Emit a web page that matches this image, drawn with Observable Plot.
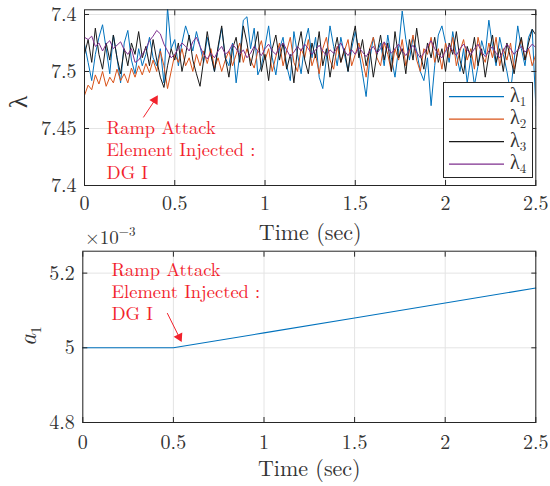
<!DOCTYPE html>
<html><head><meta charset="utf-8">
<script src="https://cdn.jsdelivr.net/npm/d3@7"></script>
<script src="https://cdn.jsdelivr.net/npm/@observablehq/plot@0.6"></script>
<style>
body{margin:0;background:#fff}
#wrap{position:relative;width:550px;height:486px;overflow:hidden;background:#fff}
#wrap svg{position:absolute;left:0;overflow:visible;background:transparent}
#wrap svg text{font-family:"Latin Modern Roman","Liberation Serif",serif}
</style></head><body><div id="wrap"></div>
<script>
// ---------- data ----------
const time = [0,0.02,0.04,0.06,0.08,0.1,0.12,0.14,0.16,0.18,0.2,0.22,0.24,0.26,0.28,0.3,0.32,0.34,0.36,0.38,0.4,0.42,0.44,0.46,0.48,0.5,0.52,0.54,0.56,0.58,0.6,0.62,0.64,0.66,0.68,0.7,0.72,0.74,0.76,0.78,0.8,0.82,0.84,0.86,0.88,0.9,0.92,0.94,0.96,0.98,1,1.02,1.04,1.06,1.08,1.1,1.12,1.14,1.16,1.18,1.2,1.22,1.24,1.26,1.28,1.3,1.32,1.34,1.36,1.38,1.4,1.42,1.44,1.46,1.48,1.5,1.52,1.54,1.56,1.58,1.6,1.62,1.64,1.66,1.68,1.7,1.72,1.74,1.76,1.78,1.8,1.82,1.84,1.86,1.88,1.9,1.92,1.94,1.96,1.98,2,2.02,2.04,2.06,2.08,2.1,2.12,2.14,2.16,2.18,2.2,2.22,2.24,2.26,2.28,2.3,2.32,2.34,2.36,2.38,2.4,2.42,2.44,2.46,2.48,2.5];

const lambda1 = [7.524,7.508,7.492,7.515,7.530,7.541,7.520,7.498,7.532,7.512,
7.490,7.525,7.536,7.510,7.498,7.520,7.505,7.515,7.530,7.512,
7.505,7.520,7.490,7.556,7.520,7.528,7.505,7.525,7.540,7.530,
7.518,7.535,7.522,7.508,7.530,7.515,7.500,7.520,7.538,7.512,
7.505,7.525,7.490,7.515,7.545,7.548,7.520,7.538,7.497,7.505,
7.522,7.540,7.512,7.497,7.520,7.530,7.505,7.492,7.535,7.515,
7.498,7.525,7.538,7.512,7.530,7.495,7.485,7.512,7.540,7.522,
7.505,7.530,7.515,7.500,7.520,7.535,7.518,7.498,7.478,7.510,
7.530,7.515,7.525,7.505,7.532,7.512,7.495,7.520,7.553,7.528,
7.510,7.530,7.518,7.500,7.492,7.512,7.470,7.505,7.532,7.540,
7.525,7.508,7.535,7.515,7.500,7.520,7.490,7.512,7.488,7.505,
7.527,7.515,7.545,7.522,7.505,7.530,7.515,7.500,7.482,7.510,
7.540,7.520,7.505,7.530,7.537,7.470];

const lambda2 = [7.479,7.488,7.484,7.497,7.489,7.500,7.487,7.495,7.490,7.502,
7.492,7.498,7.490,7.503,7.495,7.505,7.497,7.507,7.499,7.510,
7.500,7.518,7.505,7.485,7.500,7.515,7.508,7.520,7.505,7.512,
7.500,7.515,7.505,7.518,7.507,7.520,7.503,7.512,7.500,7.510,
7.518,7.505,7.515,7.525,7.508,7.520,7.510,7.503,7.518,7.527,
7.510,7.520,7.500,7.513,7.525,7.505,7.518,7.530,7.508,7.500,
7.520,7.512,7.528,7.505,7.515,7.498,7.520,7.530,7.510,7.502,
7.522,7.508,7.518,7.528,7.505,7.515,7.525,7.510,7.495,7.520,
7.530,7.512,7.505,7.525,7.515,7.500,7.520,7.510,7.528,7.505,
7.518,7.532,7.510,7.500,7.520,7.515,7.530,7.508,7.520,7.502,
7.525,7.512,7.530,7.505,7.518,7.528,7.510,7.520,7.502,7.530,
7.515,7.508,7.525,7.512,7.530,7.505,7.520,7.510,7.525,7.502,
7.518,7.528,7.510,7.520,7.505,7.515];

const lambda3 = [7.515,7.528,7.508,7.538,7.515,7.502,7.525,7.510,7.532,7.512,
7.498,7.520,7.505,7.525,7.515,7.535,7.512,7.522,7.505,7.528,
7.510,7.495,7.486,7.505,7.520,7.510,7.525,7.500,7.515,7.532,
7.510,7.498,7.487,7.510,7.535,7.515,7.500,7.522,7.540,7.512,
7.495,7.520,7.530,7.508,7.540,7.525,7.505,7.520,7.535,7.500,
7.515,7.492,7.520,7.532,7.510,7.525,7.502,7.515,7.490,7.520,
7.535,7.510,7.498,7.525,7.512,7.535,7.505,7.520,7.495,7.515,
7.530,7.508,7.520,7.500,7.525,7.540,7.512,7.528,7.505,7.520,
7.495,7.515,7.532,7.510,7.525,7.500,7.535,7.512,7.520,7.498,
7.528,7.510,7.538,7.515,7.502,7.525,7.512,7.530,7.508,7.520,
7.500,7.525,7.515,7.535,7.510,7.498,7.522,7.512,7.530,7.505,
7.520,7.495,7.515,7.532,7.508,7.520,7.500,7.525,7.512,7.498,
7.518,7.530,7.510,7.525,7.537,7.532];

const lambda4 = [7.530,7.528,7.531,7.522,7.525,7.518,7.524,7.527,7.520,7.523,
7.526,7.519,7.515,7.520,7.508,7.510,7.515,7.520,7.527,7.531,
7.536,7.533,7.524,7.518,7.512,7.515,7.520,7.525,7.522,7.518,
7.526,7.530,7.522,7.515,7.511,7.516,7.512,7.518,7.522,7.515,
7.518,7.524,7.520,7.515,7.519,7.512,7.516,7.522,7.518,7.514,
7.520,7.524,7.518,7.515,7.521,7.525,7.519,7.513,7.517,7.522,
7.518,7.524,7.520,7.515,7.519,7.523,7.518,7.514,7.519,7.516,
7.521,7.525,7.518,7.514,7.519,7.515,7.521,7.517,7.513,7.518,
7.522,7.516,7.520,7.526,7.521,7.516,7.520,7.524,7.518,7.514,
7.519,7.523,7.517,7.512,7.516,7.522,7.527,7.520,7.515,7.512,
7.518,7.523,7.518,7.514,7.520,7.524,7.519,7.515,7.520,7.524,
7.517,7.513,7.518,7.522,7.516,7.512,7.518,7.524,7.520,7.515,
7.519,7.522,7.517,7.520,7.524,7.521];

const seriesSubscripts = ["1","2","3","4"];
const seriesColors = ["#0072BD","#D95319","#1a1a1a","#7E2F8E"];

const timeTicks = [0,0.5,1,1.5,2,2.5];
const timeTickLabels = ["0","0.5","1","1.5","2","2.5"];
const lambdaTicks = [7.4,7.45,7.5,7.55];
const lambdaTickLabels = ["7.4","7.45","7.5","7.4"];

// a1 in units of 1e-3
const a1Time = [0,0.5,1,1.5,2,2.5];
const a1Values = [5.000,5.000,5.040,5.080,5.120,5.160];
const a1Ticks = [4.8,5,5.2];
const a1TickLabels = ["4.8","5","5.2"];

const annotationLines = ["Ramp Attack","Element Injected :","DG I"];
// annotation anchors in data coordinates
const annotTop = {x: 0.122, y: 7.4318};
const arrowTop = {x1: 0.326, y1: 7.4597, x2: 0.390, y2: 7.4749};
const annotBottom = {x: 0.158, y: 5.152};
const arrowBottom = {x1: 0.466, y1: 5.093, x2: 0.532, y2: 5.0287};

// ---------- style ----------
const FONT = '"Latin Modern Roman", "Liberation Serif", serif';
const AXIS = "#262626";
const TEXT = "#333333";
const GRID = "#e4e4e4";
const RED = "#f2222c";

const lambdaSeries = [lambda1, lambda2, lambda3, lambda4].map((vals, k) => ({
  sub: seriesSubscripts[k], color: seriesColors[k],
  rows: time.map((t, i) => ({t, v: vals[i]}))
}));
const a1Rows = a1Time.map((t, i) => ({t, v: a1Values[i]}));

const fmt = (ticks, labels) => d => labels[ticks.indexOf(d)];

function frameAxes(yTicks, yLabels, xPad, yPad) {
  return [
    Plot.frame({stroke: AXIS, strokeWidth: 1}),
    Plot.axisX(timeTicks, {anchor: "bottom", tickSize: -5, tickPadding: xPad, tickFormat: fmt(timeTicks, timeTickLabels), stroke: AXIS, fill: TEXT, fontSize: 20, fontFamily: FONT, label: null}),
    Plot.axisX(timeTicks, {anchor: "top", tickSize: -5, tickFormat: () => "", stroke: AXIS, label: null}),
    Plot.axisY(yTicks, {anchor: "left", tickSize: -5, tickPadding: yPad, tickFormat: fmt(yTicks, yLabels), stroke: AXIS, fill: TEXT, fontSize: 20, fontFamily: FONT, label: null}),
    Plot.axisY(yTicks, {anchor: "right", tickSize: -5, tickFormat: () => "", stroke: AXIS, label: null})
  ];
}

const wrap = document.getElementById("wrap");

// ---------- top chart ----------
const topChart = Plot.plot({
  width: 550, height: 245,
  marginTop: 9.3, marginBottom: 60, marginLeft: 84, marginRight: 14.7,
  style: {fontFamily: FONT, fontSize: "20px", background: "transparent", overflow: "visible"},
  x: {domain: [0, 2.5]},
  y: {domain: [7.4, 7.5541]},
  marks: [
    Plot.gridX(timeTicks, {stroke: GRID, strokeOpacity: 1}),
    Plot.gridY(lambdaTicks, {stroke: GRID, strokeOpacity: 1}),
    ...lambdaSeries.map(s => Plot.line(s.rows, {x: "t", y: "v", stroke: s.color, strokeWidth: 1, clip: true})),
    Plot.text([annotationLines.join("\n")], {x: annotTop.x, y: annotTop.y, textAnchor: "start", lineAnchor: "middle", lineHeight: 1.2, fill: RED, fontSize: 18.5, fontFamily: FONT}),
    Plot.link([arrowTop], {x1: "x1", y1: "y1", x2: "x2", y2: "y2", stroke: RED, strokeWidth: 1}),
    Plot.dot([arrowTop], {x: "x2", y: "y2", symbol: "triangle", r: 3.6, fill: RED, stroke: "none", rotate: 32}),
    ...frameAxes(lambdaTicks, lambdaTickLabels, 15.4, 13),
    Plot.text(["Time (sec)"], {frameAnchor: "bottom", dy: 47, lineAnchor: "middle", fontSize: 22, fill: TEXT, fontFamily: FONT})
  ]
});
topChart.style.top = "0px";
wrap.appendChild(topChart);

// legend + y label (top)
{
  const svg = d3.select(topChart);
  svg.append("text").attr("transform", "translate(27,102) rotate(-90)")
    .attr("text-anchor", "middle").attr("font-size", 26).attr("fill", TEXT).text("λ");
  const g = svg.append("g").attr("text-anchor", "start");
  g.append("rect").attr("x", 443.5).attr("y", 82.5).attr("width", 89).attr("height", 95)
    .attr("fill", "white").attr("stroke", AXIS).attr("stroke-width", 1);
  lambdaSeries.forEach((s, i) => {
    const y = 96.7 + i * 22.45;
    g.append("line").attr("x1", 449).attr("x2", 504).attr("y1", y).attr("y2", y)
      .attr("stroke", s.color).attr("stroke-width", 1.2);
    const t = g.append("text").attr("x", 510).attr("y", y + 5).attr("font-size", 20)
      .attr("text-anchor", "start").attr("fill", TEXT);
    t.append("tspan").text("λ");
    t.append("tspan").attr("font-size", 13).attr("dy", 4).text(s.sub);
  });
}

// ---------- bottom chart ----------
const bottomChart = Plot.plot({
  width: 550, height: 261,
  marginTop: 25.7, marginBottom: 64, marginLeft: 82.3, marginRight: 14.7,
  style: {fontFamily: FONT, fontSize: "20px", background: "transparent", overflow: "visible"},
  x: {domain: [0, 2.5]},
  y: {domain: [4.8, 5.2587]},
  marks: [
    Plot.gridX(timeTicks, {stroke: GRID, strokeOpacity: 1}),
    Plot.gridY(a1Ticks, {stroke: GRID, strokeOpacity: 1}),
    Plot.line(a1Rows, {x: "t", y: "v", stroke: seriesColors[0], strokeWidth: 1.1}),
    Plot.text([annotationLines.join("\n")], {x: annotBottom.x, y: annotBottom.y, textAnchor: "start", lineAnchor: "middle", lineHeight: 1.2, fill: RED, fontSize: 18.5, fontFamily: FONT}),
    Plot.link([arrowBottom], {x1: "x1", y1: "y1", x2: "x2", y2: "y2", stroke: RED, strokeWidth: 1}),
    Plot.dot([arrowBottom], {x: "x2", y: "y2", symbol: "triangle", r: 3.6, fill: RED, stroke: "none", rotate: 153.5}),
    ...frameAxes(a1Ticks, a1TickLabels, 17, 13),
    Plot.text(["Time (sec)"], {frameAnchor: "bottom", dy: 46, lineAnchor: "middle", fontSize: 22, fill: TEXT, fontFamily: FONT})
  ]
});
bottomChart.style.top = "225px";
wrap.appendChild(bottomChart);

{
  const svg = d3.select(bottomChart);
  const yl = svg.append("text").attr("transform", "translate(36,111) rotate(-90)")
    .attr("text-anchor", "middle").attr("font-size", 24).attr("fill", TEXT);
  yl.append("tspan").attr("font-style", "italic").text("a");
  yl.append("tspan").attr("font-size", 15).attr("dy", 5).text("1");
  const ex = svg.append("text").attr("x", 85).attr("y", 19).attr("font-size", 19)
    .attr("text-anchor", "start").attr("fill", TEXT);
  ex.append("tspan").text("×10");
  ex.append("tspan").attr("font-size", 13).attr("dy", -8).text("−3");
}

// make sure every text uses the serif (LaTeX-like) face
d3.selectAll("#wrap svg text").attr("font-family", FONT).style("font-family", FONT);
</script></body></html>
